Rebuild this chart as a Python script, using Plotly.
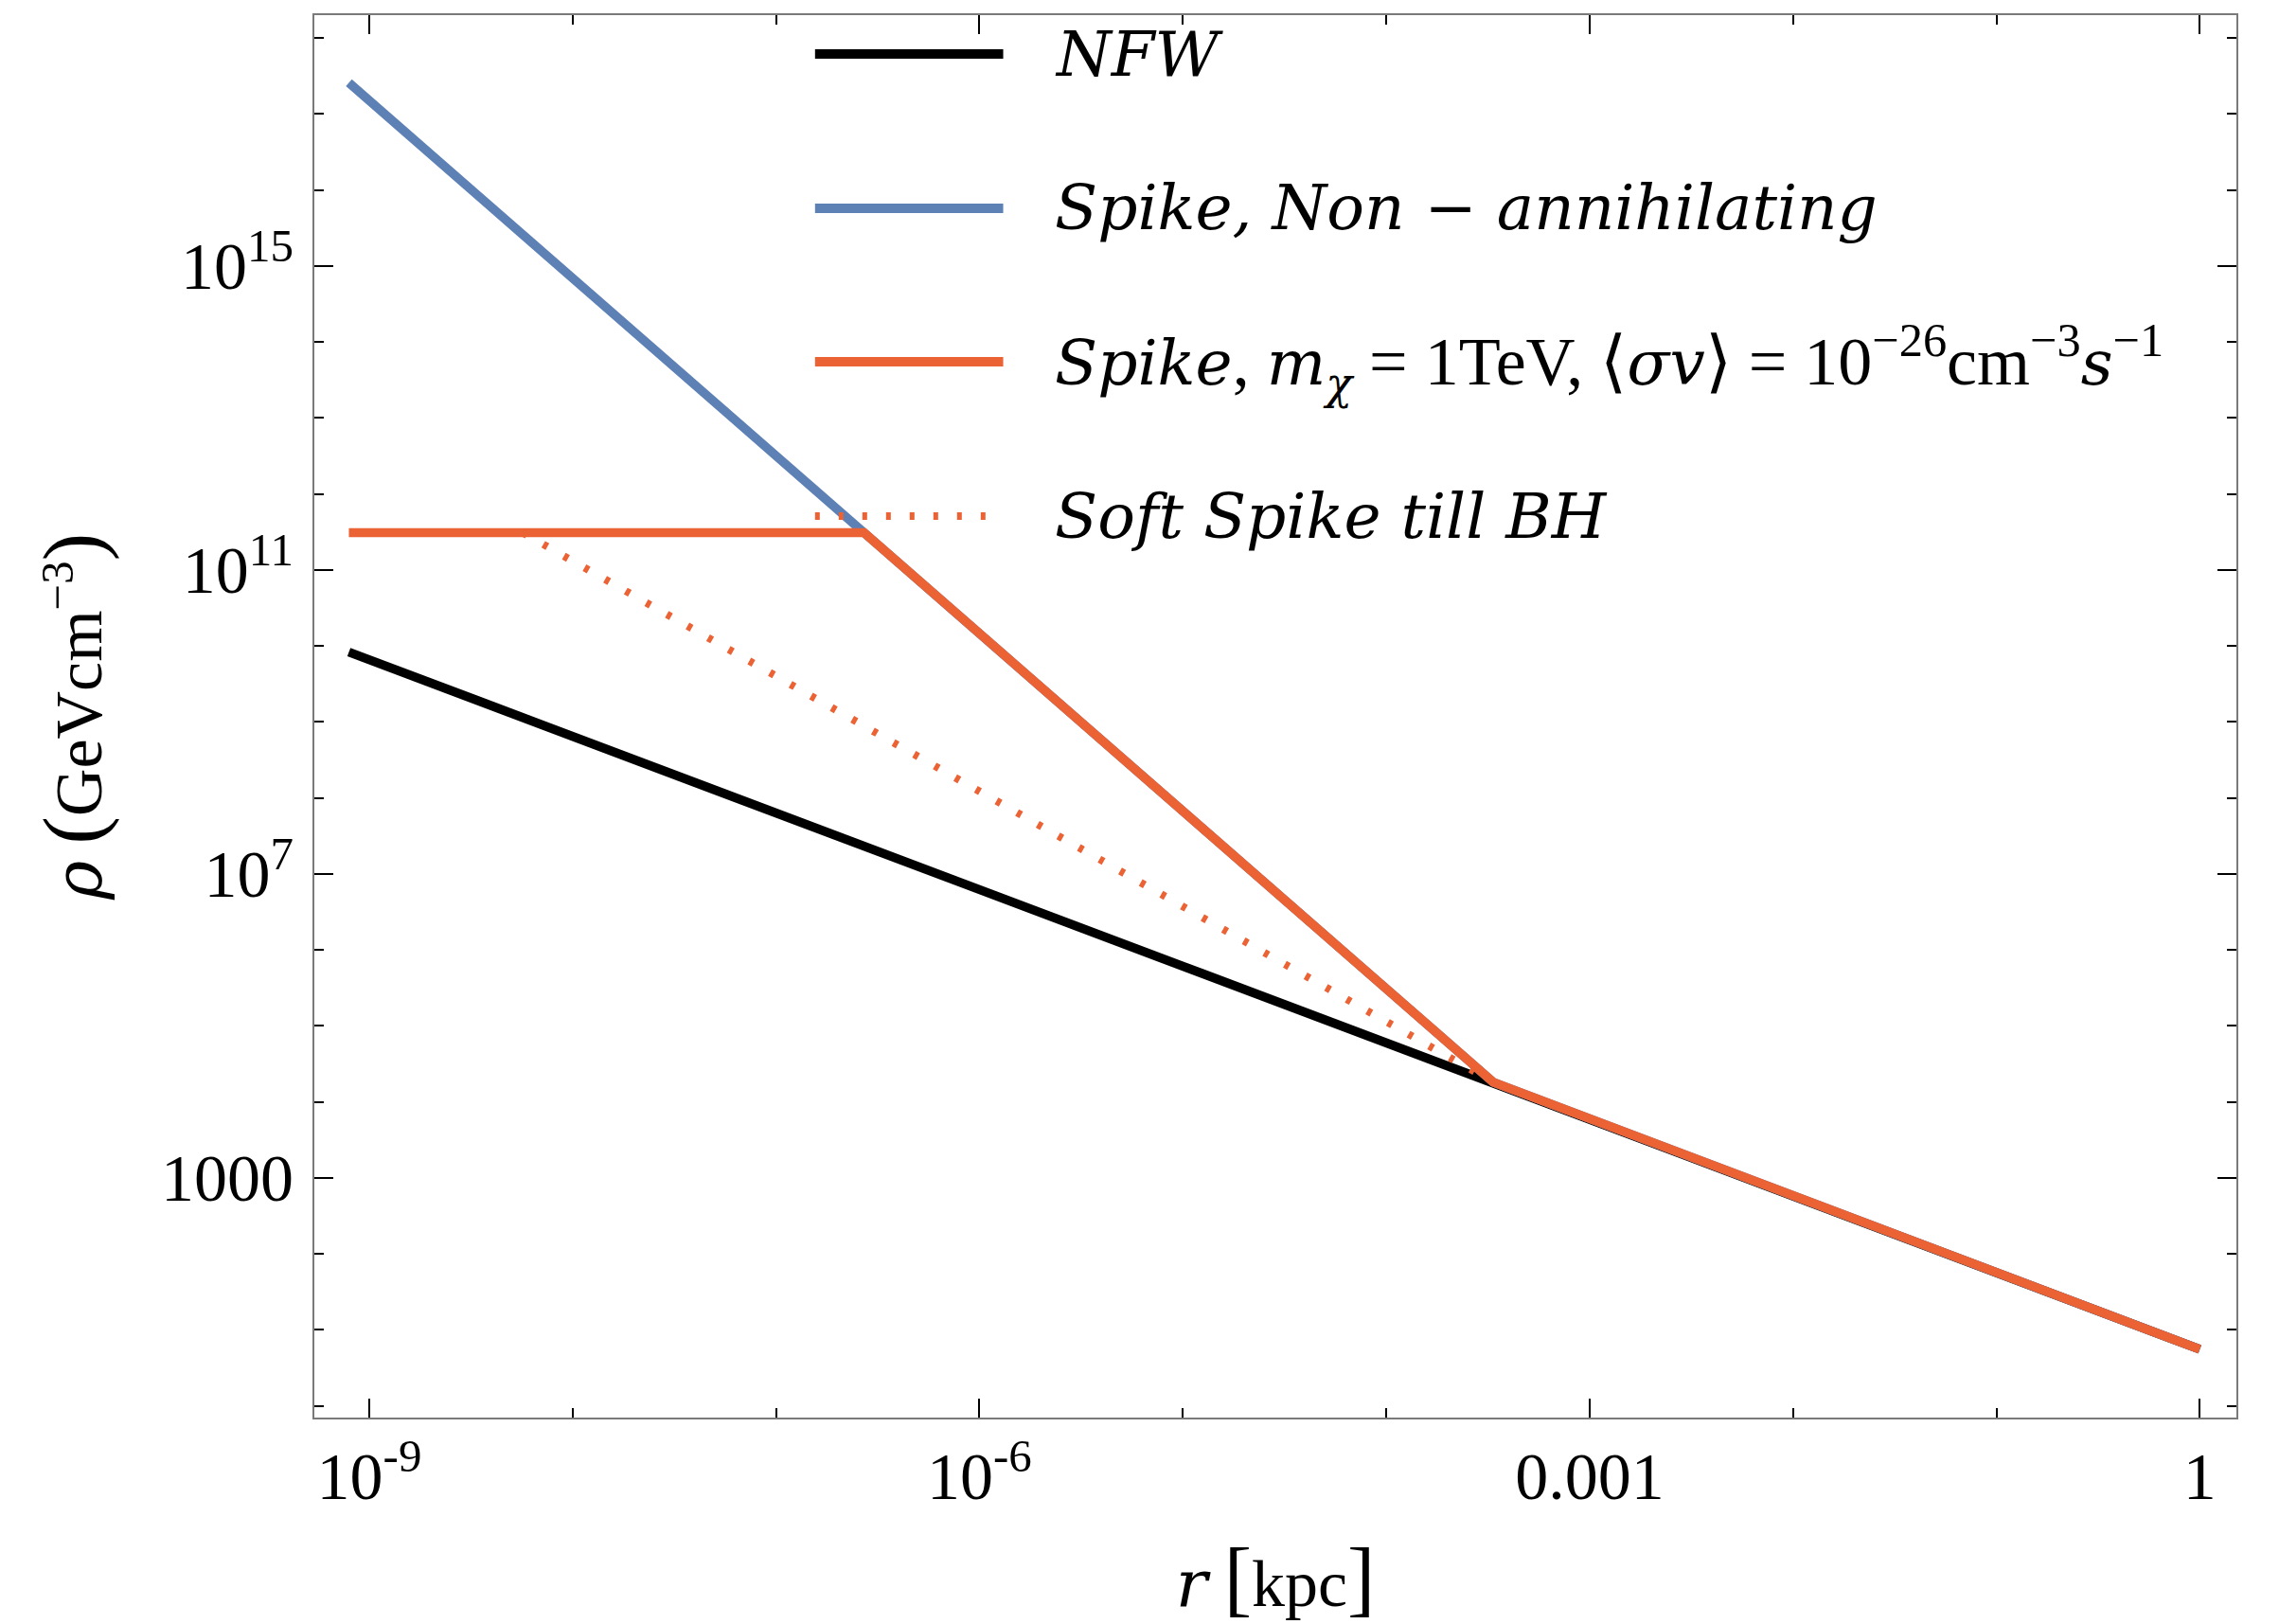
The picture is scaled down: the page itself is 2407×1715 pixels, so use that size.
import plotly.graph_objects as go

# ---- data ----
r_nfw = [7.94e-10, 3.36e-4, 1.0]
rho_nfw = [8.3e9, 1.82e4, 5.56]

r_spike = [7.94e-10, 3.36e-4, 1.0]
rho_spike = [2.57e17, 1.82e4, 5.56]

r_ann = [7.94e-10, 2.71e-7, 3.36e-4, 1.0]
rho_ann = [3.09e11, 3.09e11, 1.82e4, 5.56]

r_soft = [5.68e-9, 3.36e-4]
rho_soft = [3.09e11, 1.82e4]

x_tickvals = [1e-9, 1e-6, 1e-3, 1]
x_ticktext = ["10<sup>-9</sup>", "10<sup>-6</sup>", "0.001", "1"]
x_minor = [1e-8, 1e-7, 1e-5, 1e-4, 1e-2, 1e-1]

y_tickvals = [1e3, 1e7, 1e11, 1e15]
y_ticktext = ["1000", "10<sup>7</sup>", "10<sup>11</sup>", "10<sup>15</sup>"]
y_minor = [10.0 ** k for k in range(0, 19) if k not in (3, 7, 11, 15)]


def it(s, size=None):
    st = "font-family:DejaVu Serif"
    if size:
        st += ";font-size:%dpx" % size
    return '<span style="' + st + '"><i>' + s + '</i></span>'


legend_names = [
    it("NFW", 66),
    it("Spike, Non \u2212 annihilating", 66),
    it("Spike", 66) + ", " + it("m", 66) + "<sub>" + it("\u03c7", 46) + "</sub> = 1TeV, \u27e8" + it("\u03c3v", 66)
    + "\u27e9 = 10<sup>\u221226</sup>cm<sup>\u22123</sup>" + it("s", 66) + "<sup>\u22121</sup>",
    it("Soft Spike till BH", 66),
]

BLACK = "#000000"
BLUE = "#5E81B5"
ORANGE = "#EB6235"
FONT = "Liberation Serif"

fig = go.Figure()
LW = 9.5
fig.add_trace(go.Scatter(x=r_nfw, y=rho_nfw, mode="lines", line=dict(color=BLACK, width=LW), showlegend=False))
fig.add_trace(go.Scatter(x=r_spike, y=rho_spike, mode="lines", line=dict(color=BLUE, width=LW), showlegend=False))
fig.add_trace(go.Scatter(x=r_ann, y=rho_ann, mode="lines", line=dict(color=ORANGE, width=LW), showlegend=False))
fig.add_trace(go.Scatter(x=r_soft, y=rho_soft, mode="lines", line=dict(color=ORANGE, width=8, dash="5px,20px"), showlegend=False))

# ---- manual legend (long sample lines) ----
leg_rows = [0.9723, 0.8623, 0.7529, 0.6428]
leg_styles = [
    dict(color=BLACK, width=10),
    dict(color=BLUE, width=10),
    dict(color=ORANGE, width=10),
    dict(color=ORANGE, width=8, dash="5px,20px"),
]
for yy, st, name in zip(leg_rows, leg_styles, legend_names):
    fig.add_shape(type="line", xref="paper", yref="paper", x0=0.2605, x1=0.3584, y0=yy, y1=yy, line=st)
    fig.add_annotation(xref="paper", yref="paper", x=0.384, y=yy, xanchor="left", yanchor="middle",
                       text=name, showarrow=False, font=dict(family=FONT, size=72, color="black"))

axis_common = dict(
    type="log",
    showline=True, linecolor="#7a7a7a", linewidth=2,
    mirror="allticks",
    ticks="inside", ticklen=20, tickwidth=2, tickcolor="black",
    showgrid=False, zeroline=False,
    tickfont=dict(family=FONT, size=70, color="black"),
)

fig.update_xaxes(
    **axis_common,
    range=[-9.27, 0.18],
    tickmode="array", tickvals=x_tickvals, ticktext=x_ticktext,
    minor=dict(tickmode="array", tickvals=x_minor, ticks="inside", ticklen=10, tickwidth=2, tickcolor="black", showgrid=False),
    title=dict(text=it("r") + " <span style=\"font-size:88px\">[</span>kpc<span style=\"font-size:88px\">]</span>",
               font=dict(family=FONT, size=70, color="black"), standoff=56),
)
fig.update_yaxes(
    **axis_common,
    range=[-0.153, 18.30],
    tickmode="array", tickvals=y_tickvals, ticktext=y_ticktext,
    minor=dict(tickmode="array", tickvals=y_minor, ticks="inside", ticklen=10, tickwidth=2, tickcolor="black", showgrid=False),
    title=dict(text=it("\u03c1") + " <span style=\"font-size:88px\">(</span>GeVcm<sup>\u22123</sup><span style=\"font-size:88px\">)</span>",
               font=dict(family=FONT, size=70, color="black"), standoff=40),
    ticklabelstandoff=6,
)

fig.update_layout(
    width=2407, height=1715,
    margin=dict(l=332, r=45, t=16, b=218, autoexpand=False),
    paper_bgcolor="white", plot_bgcolor="white",
    showlegend=False,
)

fig.write_html("out.html")
